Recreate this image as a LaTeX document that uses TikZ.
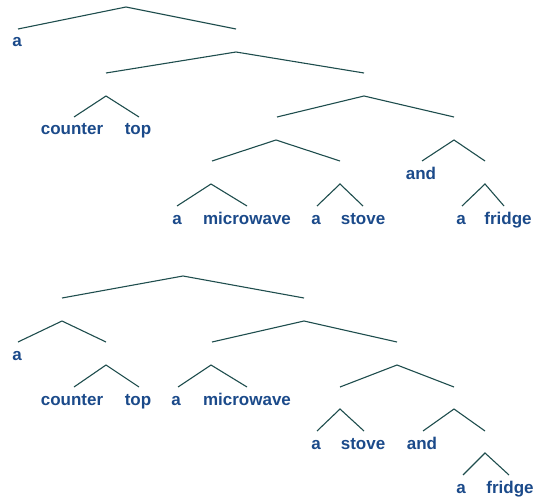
\documentclass[tikz,border=0pt]{standalone}
\usepackage{fontspec}
\setmainfont{Liberation Sans}
\definecolor{txtblue}{HTML}{1B4A8A}
\definecolor{linegreen}{HTML}{1E4D4D}
\tikzset{
  lbl/.style={anchor=base, inner sep=0pt, text=txtblue, font=\fontsize{17}{20}\selectfont\bfseries},
  br/.style={draw=linegreen, line width=1.1pt}
}
\begin{document}
\begin{tikzpicture}[x=1pt, y=-1pt]
\useasboundingbox (0,0) rectangle (537,497);
% ---------- Tree 1 ----------
\coordinate (r1) at (126,7);   \coordinate (r1l) at (18,29);  \coordinate (r1r) at (236,29);
\coordinate (n2) at (236,52);  \coordinate (n2l) at (106,73); \coordinate (n2r) at (364,73);
\coordinate (ct) at (106,96);  \coordinate (ctl) at (74,117); \coordinate (ctr) at (139,117);
\coordinate (n3) at (364,96);  \coordinate (n3l) at (277,117);\coordinate (n3r) at (454,117);
\coordinate (n4) at (276,140); \coordinate (n4l) at (212,161);\coordinate (n4r) at (340,161);
\coordinate (n5) at (454,140); \coordinate (n5l) at (422,161);\coordinate (n5r) at (485,161);
\coordinate (am) at (211,184); \coordinate (aml) at (177,206);\coordinate (amr) at (247,206);
\coordinate (as) at (340,184); \coordinate (asl) at (317,206);\coordinate (asr) at (363,206);
\coordinate (af) at (485,184); \coordinate (afl) at (462,206);\coordinate (afr) at (504,206);
\foreach \p in {r1,n2,ct,n3,n4,n5,am,as,af}{
  \draw[br] (\p l) -- (\p) -- (\p r);
}
\node[lbl] (wa1) at (17,47) {a};
\node[lbl] (wcounter1) at (72,135) {counter};
\node[lbl] (wtop1) at (138,135) {top};
\node[lbl] (wand1) at (421,179) {and};
\node[lbl] (wa2) at (177,224) {a};
\node[lbl] (wmicro1) at (247,224) {microwave};
\node[lbl] (wa3) at (316,224) {a};
\node[lbl] (wstove1) at (363,224) {stove};
\node[lbl] (wa4) at (461,224) {a};
\node[lbl] (wfridge1) at (508,224) {fridge};
% ---------- Tree 2 ----------
\coordinate (R) at (183,276);   \coordinate (Rl) at (62,298);  \coordinate (Rr) at (304,298);
\coordinate (L) at (62,321);    \coordinate (Ll) at (18,342);  \coordinate (Lr) at (106,342);
\coordinate (C) at (106,365);   \coordinate (Cl) at (74,387);  \coordinate (Cr) at (139,387);
\coordinate (Q) at (304,321);   \coordinate (Ql) at (212,342); \coordinate (Qr) at (397,342);
\coordinate (M) at (211,365);   \coordinate (Ml) at (178,387); \coordinate (Mr) at (247,387);
\coordinate (N) at (397,365);   \coordinate (Nl) at (340,387); \coordinate (Nr) at (454,387);
\coordinate (S) at (340,409);   \coordinate (Sl) at (317,431); \coordinate (Sr) at (364,431);
\coordinate (D) at (454,409);   \coordinate (Dl) at (423,431); \coordinate (Dr) at (485,431);
\coordinate (F) at (485,453);   \coordinate (Fl) at (463,475); \coordinate (Fr) at (509,475);
\foreach \p in {R,L,C,Q,M,N,S,D,F}{
  \draw[br] (\p l) -- (\p) -- (\p r);
}
\node[lbl] (va1) at (17,360) {a};
\node[lbl] (vcounter) at (72,405) {counter};
\node[lbl] (vtop) at (138,405) {top};
\node[lbl] (va2) at (176,405) {a};
\node[lbl] (vmicro) at (247,405) {microwave};
\node[lbl] (va3) at (316,449) {a};
\node[lbl] (vstove) at (363,449) {stove};
\node[lbl] (vand) at (422,449) {and};
\node[lbl] (va4) at (461,493) {a};
\node[lbl] (vfridge) at (510,493) {fridge};
\end{tikzpicture}
\end{document}
